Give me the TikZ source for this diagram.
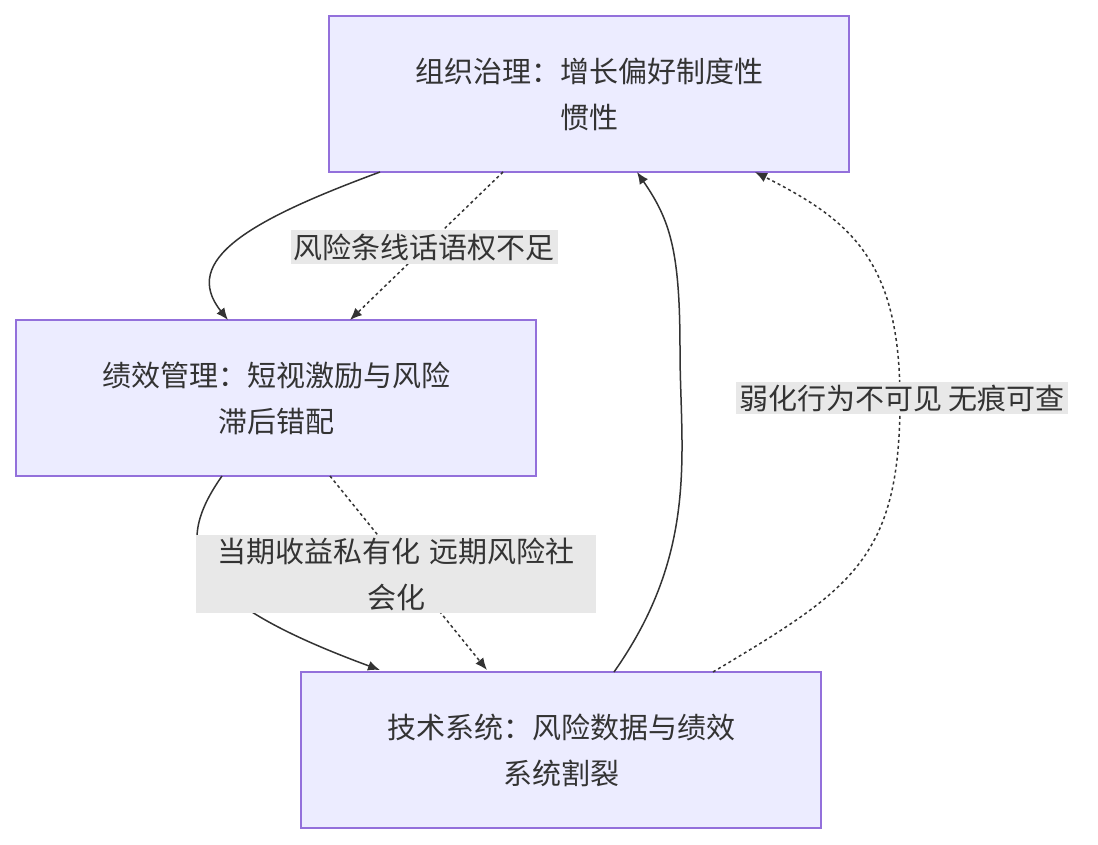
\documentclass[tikz,border=0pt]{standalone}
\usepackage{fontspec}
\setmainfont{Noto Sans CJK SC}
\usetikzlibrary{arrows.meta}
\definecolor{nfill}{HTML}{ECECFF}
\definecolor{nline}{HTML}{9370DB}
\definecolor{lbg}{HTML}{E8E8E8}
\definecolor{ink}{HTML}{333333}
\begin{document}
\begin{tikzpicture}[x=1pt,y=-1pt,
  box/.style={draw=nline,fill=nfill,line width=1.5pt,minimum width=520pt,minimum height=156pt,align=center,font=\fontsize{29}{46}\selectfont,text=ink},
  lab/.style={fill=lbg,align=center,font=\fontsize{29}{46}\selectfont,text=ink,inner sep=3pt},
  conn/.style={draw=ink,line width=1.5pt,-{Latex[length=12pt,width=10pt]}},
  dot/.style={conn,dash pattern=on 3pt off 3pt}]
\useasboundingbox (0,0) rectangle (1098,844);
\node[box] (A) at (589,94) {组织治理：增长偏好制度性\\惯性};
\node[box] (B) at (276,398) {绩效管理：短视激励与风险\\滞后错配};
\node[box] (C) at (561,750) {技术系统：风险数据与绩效\\系统割裂};
\coordinate (a1) at (380,172); \coordinate (b1) at (228,320);
\coordinate (a2) at (503,172); \coordinate (b2) at (350,320);
\coordinate (b3) at (222,476); \coordinate (c3) at (380,670);
\coordinate (b4) at (330,476); \coordinate (c4) at (487,670);
\coordinate (c5) at (614,672); \coordinate (a5) at (637,172);
\coordinate (c6) at (713,672); \coordinate (a6) at (755,172);
\draw[conn] (a1) .. controls (250,220) and (180,260) .. (b1);
\draw[dot] (a2) -- (b2);
\draw[conn] (b3) .. controls (170,550) and (190,600) .. (c3);
\draw[dot] (b4) -- (c4);
\draw[conn] (c5) .. controls (700,550) and (680,450) .. (680,350) .. controls (680,250) and (670,220) .. (a5);
\draw[dot] (c6) .. controls (850,590) and (900,560) .. (900,400) .. controls (900,260) and (850,220) .. (a6);
\node[lab] (l1) at (424,247) {风险条线话语权不足};
\node[lab,text width=394pt] (l2) at (396,574) {当期收益私有化 远期风险社\\会化};
\node[lab] (l3) at (902,398) {弱化行为不可见 无痕可查};
\end{tikzpicture}
\end{document}
